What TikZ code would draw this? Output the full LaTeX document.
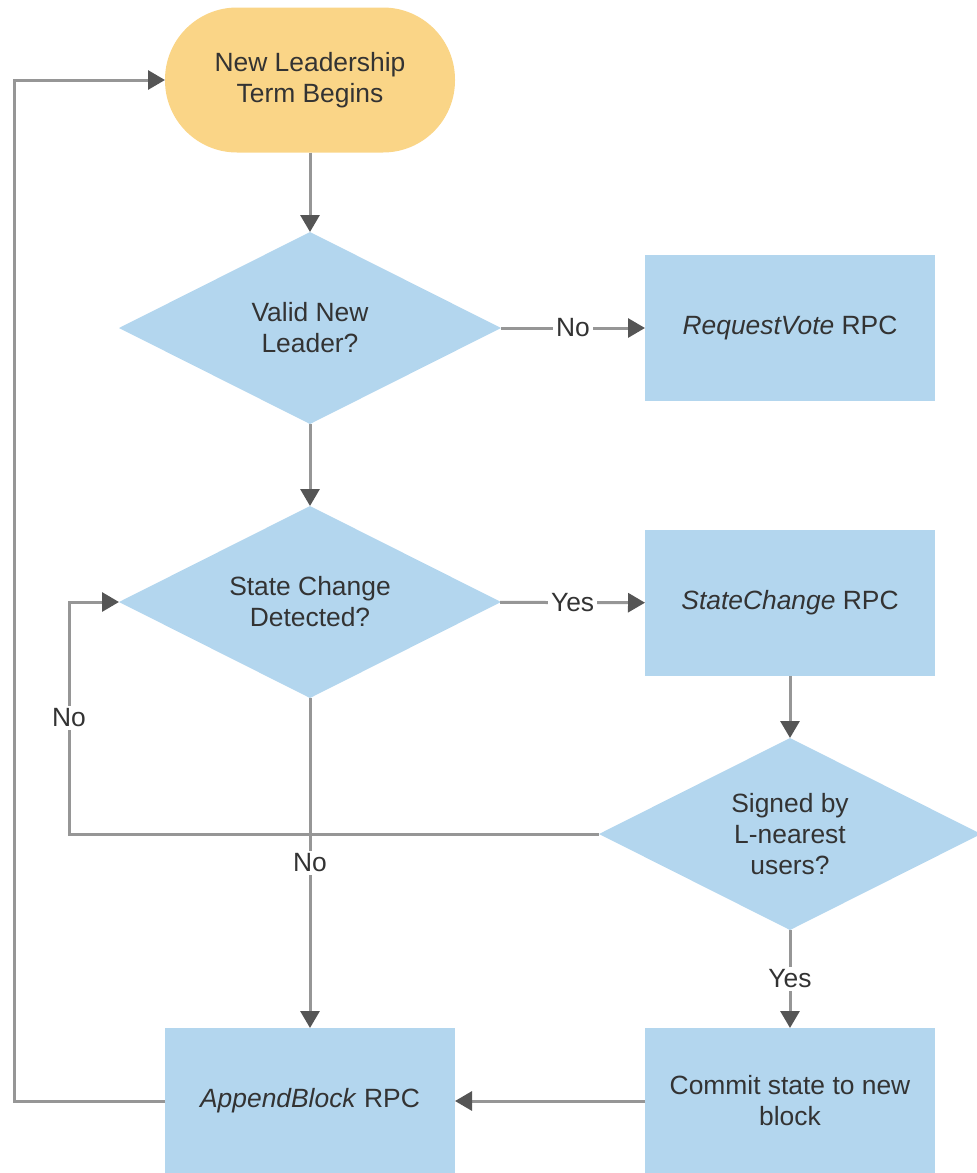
\documentclass[tikz,border=0pt]{standalone}
\usepackage{fontspec}
\setmainfont{Liberation Sans}
\usepackage{xcolor}
\usepackage{tikz}
\usetikzlibrary{shapes.geometric,arrows.meta,positioning}
\definecolor{termyellow}{RGB}{250,213,135}
\definecolor{stepblue}{RGB}{179,214,238}
\definecolor{linegray}{RGB}{150,150,150}
\definecolor{tipgray}{RGB}{85,85,85}
\definecolor{textgray}{RGB}{51,51,51}

\begin{document}
\begin{tikzpicture}[
    x=0.5pt, y=-0.5pt,
    every node/.style={font=\fontsize{13.2}{15.5}\selectfont, text=textgray},
    term/.style={rectangle, rounded corners=36pt, fill=termyellow, minimum width=145pt, minimum height=72.5pt, align=center, outer sep=0pt},
    decision/.style={diamond, aspect=2, fill=stepblue, minimum width=191pt, minimum height=96pt, inner sep=0pt, align=center, outer sep=0pt},
    process/.style={rectangle, fill=stepblue, minimum width=145pt, minimum height=73pt, align=center, outer sep=0pt},
    arrow/.style={draw=linegray, line width=1.5pt, -{Triangle[length=8.5pt, width=9.5pt, color=tipgray]}},
    lbl/.style={fill=white, inner sep=1.5pt}
]
    \useasboundingbox (0,0) rectangle (976,1173);

    % Start of a term
    \node[term] (start) at (310,80) {New Leadership\\Term Begins};

    % Left column
    \node[decision] (valid) at (310,328) {Valid New\\Leader?};
    \node[decision] (change) at (310,602) {State Change\\Detected?};
    \node[process] (append) at (310,1101) {\textit{AppendBlock} RPC};

    % Right column
    \node[process] (reqvote) at (790,328) {\textit{RequestVote} RPC};
    \node[process] (statechg) at (790,603) {\textit{StateChange} RPC};
    \node[decision] (signed) at (790,834) {Signed by\\L-nearest\\users?};
    \node[process] (commit) at (790,1101) {Commit state to new\\block};

    % Arrows
    \draw[arrow] (start) -- (valid);
    \draw[arrow] (valid) -- node[lbl] {No} (reqvote);
    \draw[arrow] (valid) -- (change);
    \draw[arrow] (change) -- node[lbl] {Yes} (statechg);
    \draw[arrow] (statechg) -- (signed);
    \draw[arrow] (signed) -- node[lbl] {Yes} (commit);
    \draw[arrow] (commit) -- (append);

    % Loops back
    \draw[arrow] (signed.west) -| node[lbl, pos=0.75] {No} ([xshift=-25pt]change.west) -- (change.west);
    \draw[arrow] (change) -- node[lbl, pos=0.5] {No} (append);
    \draw[arrow] (append.west) -| ([xshift=-75.5pt]start.west) -- (start.west);
\end{tikzpicture}
\end{document}
